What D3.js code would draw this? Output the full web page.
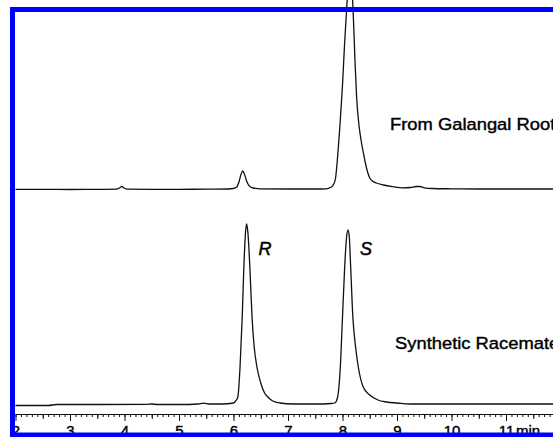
<!DOCTYPE html>
<html>
<head>
<meta charset="utf-8">
<script src="https://cdn.jsdelivr.net/npm/d3@7"></script>
<style>
  body { margin: 0; background: #fff; }
  svg { display: block; font-family: "Liberation Sans", Arial, sans-serif; }
</style>
</head>
<body>
<div id="chart"></div>
<script>
// retention time (min) and detector signal
var topTime = [2.0, 2.5, 3.0, 3.5, 3.85, 3.92, 3.95, 3.99, 4.06, 4.5, 5.0, 5.5, 5.9,
               6.0, 6.06, 6.10, 6.14, 6.17, 6.20, 6.24, 6.29, 6.36, 6.5, 7.0, 7.5,
               7.70, 7.78, 7.83, 7.87, 7.92, 7.96, 8.00, 8.04, 8.08, 8.11, 8.14, 8.17,
               8.20, 8.23, 8.26, 8.30, 8.34, 8.38, 8.42, 8.46, 8.50, 8.55, 8.62, 8.75,
               8.93, 9.1, 9.25, 9.35, 9.42, 9.5, 9.65, 10.0, 10.5, 11.0, 11.5, 12.0];
var topSignal = [0.6, 0.6, 0.5, 0.6, 0.8, 2.5, 3.5, 2, 0.8, 0.6, 0.7, 0.8, 1,
                 1.5, 3, 8, 16, 19, 16, 9, 4, 2, 1.2, 1, 1,
                 1.2, 2.5, 5, 11, 40, 70, 105, 148, 185, 208, 215, 205,
                 172, 128, 92, 66, 50, 38, 27, 18, 12, 9, 7, 5,
                 3.3, 2.2, 2.5, 3.5, 3.5, 2.2, 1.5, 1.2, 1, 1, 1, 1];

var botTime = [2.0, 2.6, 2.75, 3.5, 4.4, 4.5, 4.6, 5.0, 5.35, 5.45, 5.55, 5.8, 6.0,
               6.04, 6.08, 6.12, 6.16, 6.19, 6.22, 6.24, 6.265, 6.30, 6.34, 6.38, 6.43,
               6.50, 6.57, 6.63, 6.72, 6.85, 7.1, 7.5, 7.8,
               7.86, 7.91, 7.96, 8.00, 8.04, 8.075, 8.10, 8.125, 8.15, 8.19, 8.24, 8.29,
               8.38, 8.50, 8.65, 8.81, 9.0, 9.24, 10.0, 11.0, 12.0];
var botSignal = [-0.5, -0.5, 0.5, 0.5, 0.6, 1, 0.5, 0.5, 1, 1.8, 1, 1, 2,
                 4, 8, 38, 88, 138, 172, 181, 172, 138, 88, 58, 38,
                 22, 12, 8, 4, 2, 1, 1, 1.5,
                 2, 8, 38, 88, 138, 168, 175, 168, 138, 88, 58, 38,
                 18, 10, 5, 3, 2, 1, 1, 1, 1];

var tickLabels = [2, 3, 4, 5, 6, 7, 8, 9, 10, 11];
var traceNames = ["From Galangal Roots", "Synthetic Racemate"];
var peakNames = ["R", "S"];
var peakTimes = [6.24, 8.10];

var w = 553;
var h = 437;

var svg = d3.select("#chart")
            .append("svg")
            .attr("width", w)
            .attr("height", h);

svg.append("rect").attr("width", w).attr("height", h).attr("fill", "#fff");

var x = d3.scaleLinear().domain([2, 12]).range([15.5, 560.5]);
var yTop = d3.scaleLinear().domain([0, 180]).range([190, 10]);
var yBot = d3.scaleLinear().domain([0, 180]).range([405, 225]);

var topData = topTime.map(function(t, i) { return [t, topSignal[i]]; });
var botData = botTime.map(function(t, i) { return [t, botSignal[i]]; });

var lineTop = d3.line()
    .x(function(d) { return x(d[0]); })
    .y(function(d) { return yTop(d[1]); })
    .curve(d3.curveMonotoneX);
var lineBot = d3.line()
    .x(function(d) { return x(d[0]); })
    .y(function(d) { return yBot(d[1]); })
    .curve(d3.curveMonotoneX);

svg.append("path")
   .datum(topData)
   .attr("d", lineTop)
   .attr("fill", "none")
   .attr("stroke", "#111")
   .attr("stroke-width", 1.3);

svg.append("path")
   .datum(botData)
   .attr("d", lineBot)
   .attr("fill", "none")
   .attr("stroke", "#111")
   .attr("stroke-width", 1.3);

// ruler axis: minor, half and major ticks
var axisY = 414;
var minorAxis = d3.axisBottom(x)
    .tickValues(d3.range(20, 120).map(function(d) { return d / 10; }))
    .tickSize(3).tickSizeOuter(0).tickFormat("");
var halfAxis = d3.axisBottom(x)
    .tickValues(d3.range(2, 12).map(function(d) { return d + 0.5; }))
    .tickSize(5).tickSizeOuter(0).tickFormat("");
var majorAxis = d3.axisBottom(x)
    .tickValues(tickLabels)
    .tickSize(7).tickSizeOuter(0).tickPadding(4);

[minorAxis, halfAxis, majorAxis].forEach(function(ax) {
  var g = svg.append("g")
     .attr("transform", "translate(0," + axisY + ")")
     .call(ax);
  g.selectAll("line").attr("stroke", "#111").attr("stroke-width", 1);
  g.select(".domain").attr("stroke", "#111").attr("stroke-width", 1.2);
  g.selectAll("text")
   .attr("fill", "#000")
   .attr("stroke", "#000")
   .attr("stroke-width", 0.4)
   .style("font-size", "15px")
   .style("font-family", "'Liberation Sans', Arial, sans-serif");
});

svg.append("text")
   .attr("x", x(11) + 10)
   .attr("y", axisY + 21.6)
   .attr("stroke", "#000")
   .attr("stroke-width", 0.4)
   .style("font-size", "15px")
   .text("min");

// trace captions
svg.selectAll(".caption")
   .data(traceNames)
   .enter()
   .append("text")
   .attr("class", "caption")
   .attr("transform", function(d, i) {
     var px = i === 0 ? 390 : 395;
     var py = i === 0 ? 130 : 348.5;
     return "translate(" + px + "," + py + ") scale(1.08,1)";
   })
   .attr("stroke", "#000")
   .attr("stroke-width", 0.4)
   .style("font-size", "17px")
   .text(function(d) { return d; });

// enantiomer labels
svg.selectAll(".peak")
   .data(peakNames)
   .enter()
   .append("text")
   .attr("class", "peak")
   .attr("x", function(d, i) { return x(peakTimes[i]) + 12; })
   .attr("y", 255)
   .attr("stroke", "#000")
   .attr("stroke-width", 0.5)
   .style("font-size", "18px")
   .style("font-style", "italic")
   .text(function(d) { return d; });

// blue frame
svg.append("rect")
   .attr("x", 12.5)
   .attr("y", 9.5)
   .attr("width", 700)
   .attr("height", 425.5)
   .attr("fill", "none")
   .attr("stroke", "#0000ff")
   .attr("stroke-width", 5);
</script>
</body>
</html>
